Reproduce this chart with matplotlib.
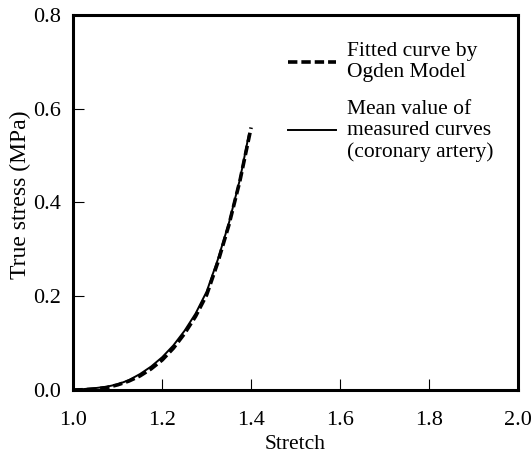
import matplotlib
matplotlib.use("Agg")
import matplotlib.pyplot as plt

# Fitted Ogden model curve
stretch_fit = [1.00, 1.025, 1.05, 1.075, 1.10, 1.125, 1.15, 1.175, 1.20, 1.225,
               1.25, 1.275, 1.30, 1.325, 1.35, 1.375, 1.40]
stress_fit = [0.000, 0.0005, 0.002, 0.005, 0.011, 0.019, 0.030, 0.045, 0.064, 0.089,
              0.120, 0.157, 0.203, 0.272, 0.352, 0.447, 0.560]

# Mean of measured curves (coronary artery)
stretch_mean = [1.00, 1.025, 1.05, 1.075, 1.10, 1.125, 1.15, 1.175, 1.20, 1.225,
                1.25, 1.275, 1.30, 1.325, 1.35, 1.375, 1.395]
stress_mean = [0.000, 0.002, 0.004, 0.007, 0.012, 0.021, 0.034, 0.050, 0.070, 0.095,
               0.126, 0.163, 0.210, 0.278, 0.356, 0.450, 0.545]

x_ticks = [1.0, 1.2, 1.4, 1.6, 1.8, 2.0]
y_ticks = [0.0, 0.2, 0.4, 0.6, 0.8]

plt.rcParams['font.family'] = ['Liberation Serif', 'DejaVu Serif']

fig = plt.figure(figsize=(5.32, 4.55), dpi=100)
ax = fig.add_axes([0.138, 0.143, 0.835, 0.824])

ax.plot(stretch_fit, stress_fit, color='black', lw=2.6, linestyle=(0, (2.6, 1.1)),
        label='Fitted curve by\nOgden Model')
ax.plot(stretch_mean, stress_mean, color='black', lw=1.4,
        label='Mean value of\nmeasured curves\n(coronary artery)')

ax.set_xlim(1.0, 2.0)
ax.set_ylim(0.0, 0.8)
ax.set_xticks(x_ticks)
ax.set_yticks(y_ticks)
ax.set_xticklabels([f'{v:.1f}' for v in x_ticks])
ax.set_yticklabels([f'{v:.1f}' for v in y_ticks])
ax.tick_params(direction='in', length=8, width=0.8, labelsize=16,
               top=False, right=False)
ax.tick_params(axis='x', pad=15)
ax.tick_params(axis='y', pad=9)
for s in ax.spines.values():
    s.set_linewidth(2.2)

ax.set_xlabel('Stretch', fontsize=15.5, labelpad=4)
ax.set_ylabel('True stress (MPa)', fontsize=17)
ax.yaxis.set_label_coords(-0.096, 0.52)

leg = ax.legend(loc='upper right', bbox_to_anchor=(0.945, 0.927), frameon=False,
                fontsize=15.5, handlelength=2.25, handletextpad=0.5,
                labelspacing=0.8, borderpad=0, borderaxespad=0)
for t in leg.get_texts():
    t.set_linespacing(1.15)

fig.savefig('out.png', dpi=100)
